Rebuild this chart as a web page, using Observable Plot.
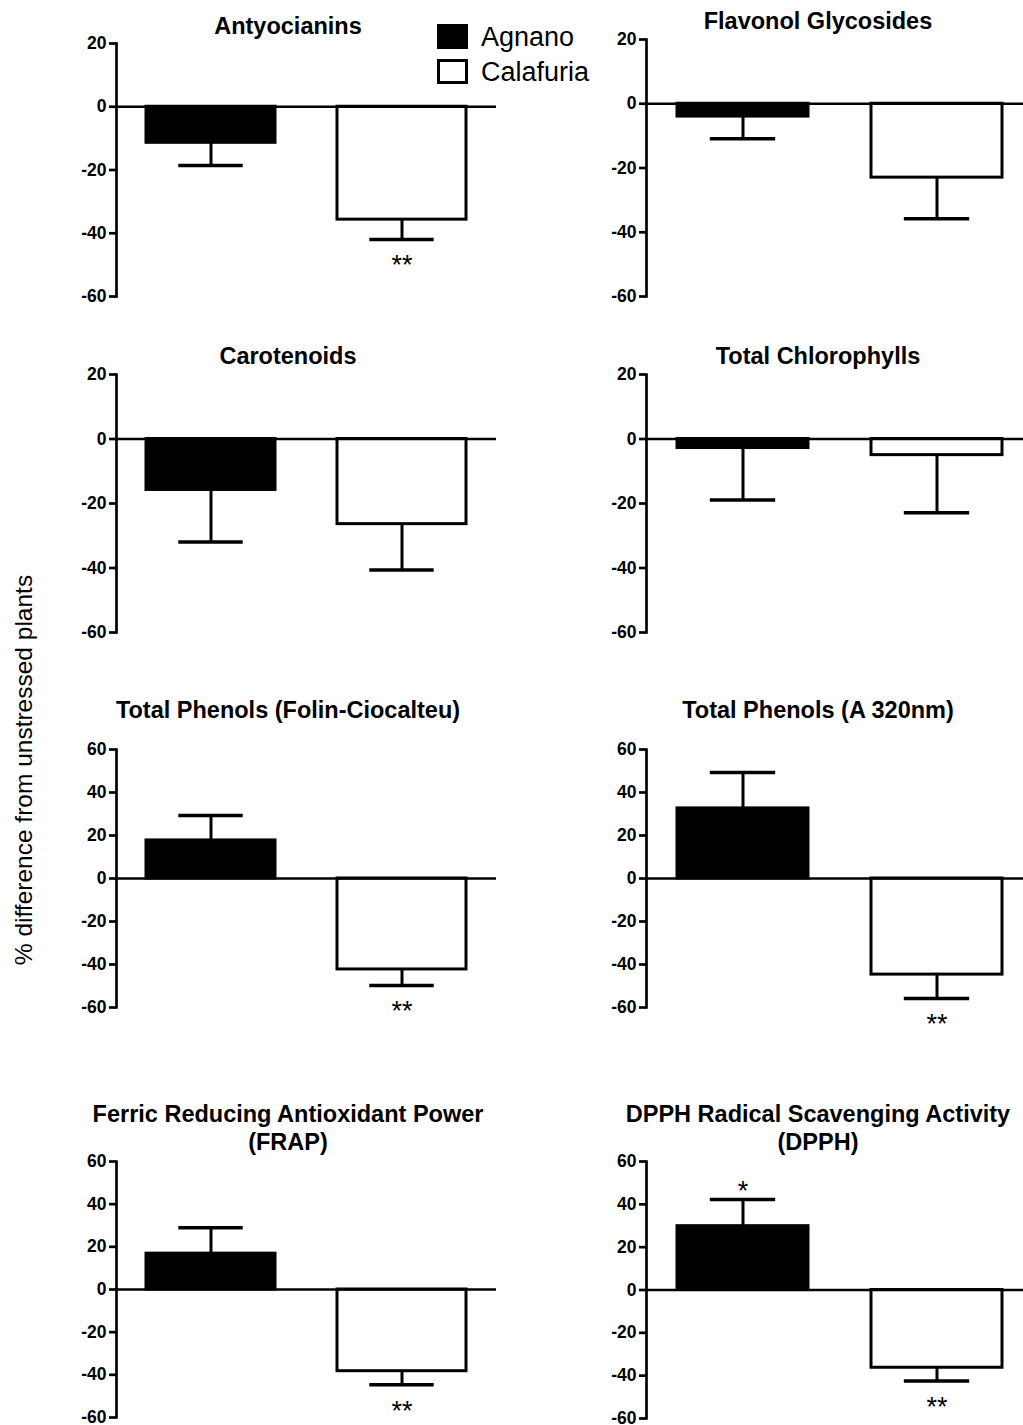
<!DOCTYPE html>
<html>
<head>
<meta charset="utf-8">
<script src="https://cdn.jsdelivr.net/npm/d3@7"></script>
<script src="https://cdn.jsdelivr.net/npm/@observablehq/plot@0.6"></script>
<style>
  html, body { margin: 0; padding: 0; background: #fff; overflow: hidden; }
  #chart { position: relative; width: 1023px; height: 1425px; overflow: hidden; background: #fff;
           font-family: "Liberation Sans", Arial, Helvetica, sans-serif; color: #000; }
  .panel { position: absolute; }
  .panel svg { max-width: none !important; display: block; }
  .panel svg g[aria-label="y-axis tick label"] { font-size: 17.5px; font-weight: bold; }
  .title { position: absolute; width: 460px; text-align: center; font-weight: bold;
           font-size: 23.5px; line-height: 28px; white-space: pre; }
  .legend-box { position: absolute; width: 31px; height: 25px; box-sizing: border-box; border: 3px solid #000; }
  .legend-text { position: absolute; font-size: 27px; line-height: 30px; white-space: nowrap; }
  .ylabel { position: absolute; width: 500px; text-align: center; font-size: 24.5px; line-height: 30px;
            transform: rotate(-90deg); white-space: nowrap; }
</style>
</head>
<body>
<div id="chart"></div>
<script>
// ---------------- data ----------------
const sites = ["Agnano", "Calafuria"];
const siteColors = ["#000000", "#ffffff"];
const titles = [
  "Antyocianins",
  "Flavonol Glycosides",
  "Carotenoids",
  "Total Chlorophylls",
  "Total Phenols (Folin-Ciocalteu)",
  "Total Phenols (A 320nm)",
  "Ferric Reducing Antioxidant Power\n(FRAP)",
  "DPPH Radical Scavenging Activity\n(DPPH)"
];
const agnanoMean    = [-11.4, -4.0, -15.8, -2.8, 17.7, 32.6, 16.8, 29.8];
const agnanoErr     = [7.2, 6.9, 16.1, 16.1, 11.6, 16.7, 12.1, 12.5];
const calafuriaMean = [-35.7, -23.0, -26.4, -5.0, -42.3, -44.7, -38.3, -36.3];
const calafuriaErr  = [6.3, 12.8, 14.2, 17.9, 7.5, 11.1, 6.4, 6.2];
const agnanoSig     = ["", "", "", "", "", "", "", "*"];
const calafuriaSig  = ["**", "", "", "", "**", "**", "**", "**"];
const yTicksShort = [-60, -40, -20, 0, 20];
const yTicksTall  = [-60, -40, -20, 0, 20, 40, 60];
const panelTicks = [yTicksShort, yTicksShort, yTicksShort, yTicksShort, yTicksTall, yTicksTall, yTicksTall, yTicksTall];
const yLabel = "% difference from unstressed plants";

// ---------------- layout ----------------
const font = '"Liberation Sans", Arial, Helvetica, sans-serif';
const colAxisX = [116, 646];
const colPlotW = [380, 386];
const panelTop = [43, 39, 374, 374, 749, 749, 1161, 1161];   // y of top tick
const panelPlotH = [253, 257, 258, 258, 258, 258, 256, 257];
const titleBaseline = [34, 29, 364, 364, 718, 718, 1122, 1122];
const mL = 60, mT = 12, mB = 34, mR = 4;

const chart = document.getElementById("chart");

titles.forEach((title, i) => {
  const col = i % 2;
  const ticks = panelTicks[i];
  const rows = sites.map((site, j) => {
    const mean = j === 0 ? agnanoMean[i] : calafuriaMean[i];
    const err = j === 0 ? agnanoErr[i] : calafuriaErr[i];
    const sig = j === 0 ? agnanoSig[i] : calafuriaSig[i];
    const sgn = mean >= 0 ? 1 : -1;
    return {site, mean, end: mean + sgn * err, sig, up: sgn > 0};
  });
  const plotW = colPlotW[col];
  const bw = plotW * 0.34;  // approx bandwidth for cap inset
  const W = mL + plotW + mR, H = mT + panelPlotH[i] + mB;
  const svg = Plot.plot({
    width: W,
    height: H,
    marginLeft: mL, marginRight: mR, marginTop: mT, marginBottom: mB,
    style: {fontFamily: font, fontSize: "17.5px", color: "#000", background: "transparent", overflow: "visible"},
    x: {domain: sites, type: "band", paddingInner: 0.325, paddingOuter: 0.155, axis: null},
    y: {domain: [d3.min(ticks), d3.max(ticks)], axis: null},
    color: {domain: sites, range: siteColors},
    marks: [
      Plot.axisY({ticks, tickFormat: d => String(d), tickSize: 7, tickPadding: 3, strokeWidth: 2.7}),
      Plot.frame({anchor: "left", strokeWidth: 2.7}),
      Plot.barY(rows, {x: "site", y: "mean", fill: "site", stroke: "#000", strokeWidth: 3}),
      Plot.ruleX(rows, {x: "site", y1: "mean", y2: "end", strokeWidth: 3}),
      Plot.tickY(rows, {x: "site", y: "end", strokeWidth: 3.5, insetLeft: bw / 4, insetRight: bw / 4}),
      Plot.ruleY([0], {strokeWidth: 2.5}),
      Plot.text(rows.filter(d => d.sig && !d.up), {x: "site", y: "end", text: "sig", dy: 26, fontSize: 27, fontWeight: "normal"}),
      Plot.text(rows.filter(d => d.sig && d.up), {x: "site", y: "end", text: "sig", dy: -8, fontSize: 27, fontWeight: "normal"})
    ]
  });
  svg.style.maxWidth = "none";
  svg.setAttribute("width", W);
  svg.setAttribute("height", H);
  const wrap = document.createElement("div");
  wrap.className = "panel";
  wrap.style.left = (colAxisX[col] - mL) + "px";
  wrap.style.top = (panelTop[i] - mT) + "px";
  wrap.style.width = W + "px";
  wrap.style.height = H + "px";
  wrap.appendChild(svg);
  chart.appendChild(wrap);

  const t = document.createElement("div");
  t.className = "title";
  t.textContent = title;
  t.style.left = (colAxisX[col] + 172 - 230) + "px";
  t.style.top = (titleBaseline[i] - 22.1) + "px";
  chart.appendChild(t);
});

// legend
sites.forEach((s, j) => {
  const box = document.createElement("div");
  box.className = "legend-box";
  box.style.left = "437px";
  box.style.top = (j === 0 ? 24 : 59) + "px";
  box.style.background = siteColors[j];
  chart.appendChild(box);
  const tx = document.createElement("div");
  tx.className = "legend-text";
  tx.textContent = s;
  tx.style.left = "481px";
  tx.style.top = (j === 0 ? 21.6 : 56.6) + "px";
  chart.appendChild(tx);
});

// y label
const yl = document.createElement("div");
yl.className = "ylabel";
yl.textContent = yLabel;
yl.style.left = (23.5 - 250) + "px";
yl.style.top = (770 - 15) + "px";
chart.appendChild(yl);
</script>
</body>
</html>
